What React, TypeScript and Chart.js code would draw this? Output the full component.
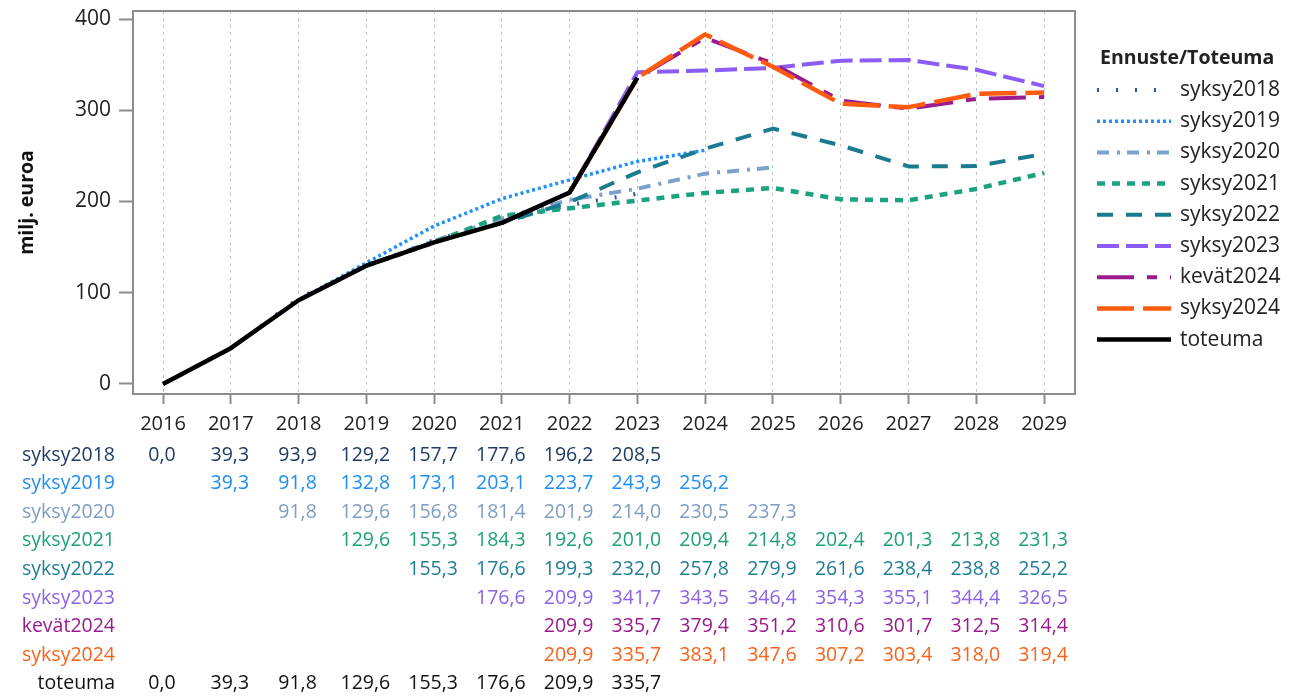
import React, { useEffect, useRef } from "react";
import { Chart, registerables } from "chart.js";

Chart.register(...registerables);

const YEARS = [2016, 2017, 2018, 2019, 2020, 2021, 2022, 2023, 2024, 2025, 2026, 2027, 2028, 2029];
const Y_TICKS = [0, 100, 200, 300, 400];

const SYKSY2018 = [0.0, 39.3, 93.9, 129.2, 157.7, 177.6, 196.2, 208.5, null, null, null, null, null, null];
const SYKSY2019 = [null, 39.3, 91.8, 132.8, 173.1, 203.1, 223.7, 243.9, 256.2, null, null, null, null, null];
const SYKSY2020 = [null, null, 91.8, 129.6, 156.8, 181.4, 201.9, 214.0, 230.5, 237.3, null, null, null, null];
const SYKSY2021 = [null, null, null, 129.6, 155.3, 184.3, 192.6, 201.0, 209.4, 214.8, 202.4, 201.3, 213.8, 231.3];
const SYKSY2022 = [null, null, null, null, 155.3, 176.6, 199.3, 232.0, 257.8, 279.9, 261.6, 238.4, 238.8, 252.2];
const SYKSY2023 = [null, null, null, null, null, 176.6, 209.9, 341.7, 343.5, 346.4, 354.3, 355.1, 344.4, 326.5];
const KEVAT2024 = [null, null, null, null, null, null, 209.9, 335.7, 379.4, 351.2, 310.6, 301.7, 312.5, 314.4];
const SYKSY2024 = [null, null, null, null, null, null, 209.9, 335.7, 383.1, 347.6, 307.2, 303.4, 318.0, 319.4];
const TOTEUMA = [0.0, 39.3, 91.8, 129.6, 155.3, 176.6, 209.9, 335.7, null, null, null, null, null, null];

const SERIES_NAMES = ["syksy2018", "syksy2019", "syksy2020", "syksy2021", "syksy2022", "syksy2023", "kevät2024", "syksy2024", "toteuma"];
const SERIES_VALUES = [SYKSY2018, SYKSY2019, SYKSY2020, SYKSY2021, SYKSY2022, SYKSY2023, KEVAT2024, SYKSY2024, TOTEUMA];

const LEGEND_TITLE = "Ennuste/Toteuma";
const Y_TITLE = "milj. euroa";

// styles
const LINE_COLORS = ["#2B5A97", "#1E90FF", "#7BA1CC", "#1BA37F", "#1A7B8F", "#8B5CF6", "#9A1B8E", "#FF5B0F", "#000000"];
const TEXT_COLORS = ["#1F3B66", "#1E8EF5", "#7F9DC4", "#1FA07A", "#1E7E94", "#8A63E8", "#9A1B8E", "#F8621A", "#111111"];
const DASHES = [[2, 17], [3, 3], [12, 8, 3, 7], [8, 7], [16, 13], [22, 7], [37, 13, 10, 13], [37, 9], []];
const WIDTHS = [4, 3.5, 4, 4.5, 4, 4, 4, 4.5, 4.5];

const FONT = "'Open Sans', sans-serif";
const AXIS_COLOR = "#8c8c8c";

const fmt = (v: number) => v.toFixed(1).replace(".", ",");

const boxPlugin = {
  id: "plotBox",
  beforeDatasetsDraw(chart: any) {
    const { ctx, chartArea } = chart;
    ctx.save();
    ctx.strokeStyle = AXIS_COLOR;
    ctx.lineWidth = 2;
    ctx.setLineDash([]);
    ctx.strokeRect(chartArea.left, chartArea.top, chartArea.right - chartArea.left, chartArea.bottom - chartArea.top);
    ctx.restore();
  },
};

const tablePlugin = {
  id: "dataTable",
  afterDraw(chart: any) {
    const { ctx } = chart;
    const xs = chart.scales.x;
    ctx.save();
    ctx.font = `19.5px ${FONT}`;
    ctx.textBaseline = "middle";
    SERIES_NAMES.forEach((name, r) => {
      const y = 447 + 28.6 * r;
      ctx.fillStyle = TEXT_COLORS[r];
      ctx.textAlign = "right";
      ctx.fillText(name, 107, y);
      ctx.textAlign = "center";
      SERIES_VALUES[r].forEach((v, i) => {
        if (v === null || v === undefined) return;
        ctx.fillText(fmt(v), xs.getPixelForValue(YEARS[i]) - 1, y);
      });
    });
    ctx.restore();
  },
};

const legendPlugin = {
  id: "customLegend",
  afterDraw(chart: any) {
    const { ctx } = chart;
    ctx.save();
    ctx.textBaseline = "middle";
    ctx.textAlign = "left";
    ctx.fillStyle = "#222";
    ctx.font = `bold 19.5px ${FONT}`;
    ctx.fillText(LEGEND_TITLE, 1092, 50);
    ctx.font = `21px ${FONT}`;
    SERIES_NAMES.forEach((name, i) => {
      const y = 82 + 31.2 * i;
      ctx.save();
      ctx.strokeStyle = LINE_COLORS[i];
      ctx.lineWidth = WIDTHS[i];
      ctx.lineCap = "butt";
      ctx.setLineDash(DASHES[i]);
      ctx.beginPath();
      ctx.moveTo(1089, y);
      ctx.lineTo(1163, y);
      ctx.stroke();
      ctx.restore();
      ctx.fillStyle = "#222";
      ctx.fillText(name, 1172, y);
    });
    ctx.restore();
  },
};

export default function App() {
  const ref = useRef<HTMLCanvasElement | null>(null);
  useEffect(() => {
    if (!ref.current) return;
    const datasets = SERIES_NAMES.map((name, i) => ({
      label: name,
      data: YEARS.map((x, j) => ({ x, y: SERIES_VALUES[i][j] })),
      borderColor: LINE_COLORS[i],
      backgroundColor: LINE_COLORS[i],
      borderWidth: WIDTHS[i],
      borderDash: DASHES[i],
      borderCapStyle: "butt" as const,
      borderJoinStyle: "round" as const,
      pointRadius: 0,
      tension: 0,
      fill: false,
      order: SERIES_NAMES.length - 1 - i,
    }));
    const chart = new Chart(ref.current, {
      type: "line",
      data: { datasets },
      plugins: [boxPlugin, tablePlugin, legendPlugin],
      options: {
        responsive: false,
        animation: false,
        events: [],
        layout: { padding: { left: 0, top: 3, right: 231, bottom: 252 } },
        plugins: { legend: { display: false }, tooltip: { enabled: false }, title: { display: false } },
        scales: {
          x: {
            type: "linear",
            min: 2015.557,
            max: 2029.457,
            afterBuildTicks: (s: any) => {
              s.ticks = YEARS.map((v) => ({ value: v }));
            },
            afterFit: (s: any) => {
              s.height = 50;
              s.paddingLeft = 0;
              s.paddingRight = 0;
            },
            ticks: {
              autoSkip: false,
              maxRotation: 0,
              padding: 8,
              color: "#222",
              font: { family: FONT, size: 20 },
              callback: (v: any) => String(v),
            },
            grid: {
              display: true,
              drawOnChartArea: true,
              drawTicks: true,
              color: "#c4c4c4",
              lineWidth: 1,
              tickLength: 10,
              tickColor: AXIS_COLOR,
              tickWidth: 2,
              tickBorderDash: [],
            },
            border: { display: true, color: AXIS_COLOR, width: 2, dash: [3, 4] },
          },
          y: {
            type: "linear",
            min: -10.96,
            max: 408.77,
            afterBuildTicks: (s: any) => {
              s.ticks = Y_TICKS.map((v) => ({ value: v }));
            },
            afterFit: (s: any) => {
              s.width = 125;
              s.paddingTop = 0;
              s.paddingBottom = 0;
            },
            ticks: {
              padding: 8,
              color: "#222",
              font: { family: FONT, size: 21 },
              callback: (v: any) => String(v),
            },
            grid: {
              display: true,
              drawOnChartArea: false,
              drawTicks: true,
              color: AXIS_COLOR,
              tickLength: 14,
              tickColor: AXIS_COLOR,
              tickWidth: 2,
            },
            border: { display: true, color: AXIS_COLOR, width: 2 },
            title: {
              display: true,
              text: Y_TITLE,
              color: "#111",
              font: { family: FONT, size: 19.5, weight: "bold" },
              padding: { top: 8, bottom: 0 },
            },
          },
        },
      },
    } as any);
    return () => chart.destroy();
  }, []);
  return (
    <>
      <style>{"body{margin:8px 8px 0 8px;}"}</style>
      <canvas
        ref={ref}
        width={1298}
        height={688}
        style={{ display: "block", width: 1298, height: 688 }}
      />
    </>
  );
}
